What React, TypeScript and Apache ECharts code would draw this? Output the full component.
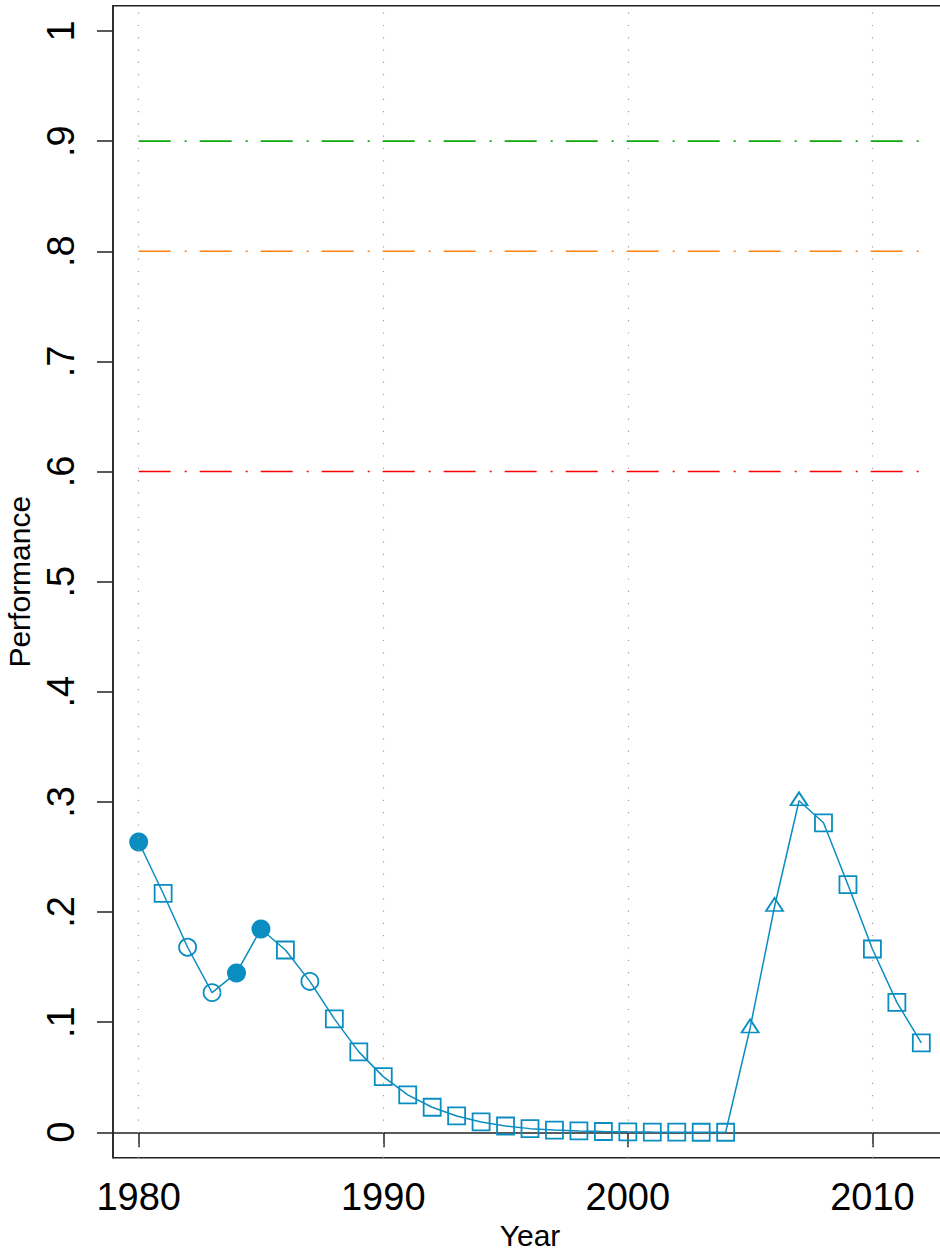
import React, { useEffect, useRef } from "react";
import * as echarts from "echarts";

const years = [1980, 1981, 1982, 1983, 1984, 1985, 1986, 1987, 1988, 1989, 1990, 1991, 1992, 1993, 1994, 1995, 1996, 1997, 1998, 1999, 2000, 2001, 2002, 2003, 2004, 2005, 2006, 2007, 2008, 2009, 2010, 2011, 2012];
const performance = [0.2636, 0.217, 0.168, 0.1268, 0.1447, 0.1846, 0.1655, 0.137, 0.103, 0.073, 0.0505, 0.0339, 0.0227, 0.0148, 0.0094, 0.0057, 0.0033, 0.002, 0.0012, 0.0007, 0.0004, 0.0002, 0.0001, 0.0, 0.0, 0.0947, 0.205, 0.301, 0.281, 0.2248, 0.1664, 0.118, 0.0811];
// F = filled circle, O = hollow circle, S = hollow square, T = hollow triangle
const markers = ["F", "S", "O", "O", "F", "F", "S", "O", "S", "S", "S", "S", "S", "S", "S", "S", "S", "S", "S", "S", "S", "S", "S", "S", "S", "T", "T", "T", "S", "S", "S", "S", "S"];

const xTicks = [1980, 1990, 2000, 2010];
const yTicks = [0, 0.1, 0.2, 0.3, 0.4, 0.5, 0.6, 0.7, 0.8, 0.9, 1];
const refLevels = [0.9, 0.8, 0.6];
const refColors = ["#10a810", "#ff8010", "#ff0000"];
const refStart = 1980;
const refEnd = 2012;

const BLUE = "#0a8dc0";
const FONT = "'Liberation Sans', Arial, sans-serif";

function markerItem(x: number, y: number, m: string) {
  if (m === "F") {
    return { value: [x, y], symbol: "circle", symbolSize: 19, itemStyle: { color: BLUE, borderWidth: 0 } };
  }
  if (m === "O") {
    return { value: [x, y], symbol: "circle", symbolSize: 17, itemStyle: { color: "rgba(0,0,0,0)", borderColor: BLUE, borderWidth: 1.8 } };
  }
  if (m === "T") {
    return { value: [x, y], symbol: "triangle", symbolSize: [17, 13], symbolOffset: [0, -2], itemStyle: { color: "rgba(0,0,0,0)", borderColor: BLUE, borderWidth: 1.8 } };
  }
  return { value: [x, y], symbol: "rect", symbolSize: 17, itemStyle: { color: "rgba(0,0,0,0)", borderColor: BLUE, borderWidth: 1.8 } };
}

export default function App() {
  const ref = useRef<HTMLDivElement>(null);
  useEffect(() => {
    if (!ref.current) return;
    const chart = echarts.init(ref.current, undefined, { renderer: "svg" });
    const seriesData = years.map((y, i) => markerItem(y, performance[i], markers[i]));
    const refSeries = refLevels.map((lv, i) => ({
      type: "line",
      z: 2,
      silent: true,
      symbol: "none",
      color: refColors[i],
      data: [[refStart, lv], [refEnd, lv]],
      lineStyle: { color: refColors[i], width: 1.6, type: [32, 14, 2, 13], opacity: 1 },
    }));
    chart.setOption({
      animation: false,
      backgroundColor: "#ffffff",
      grid: {
        left: 113,
        right: -7,
        top: 5.7,
        bottom: 96.3,
        show: true,
        borderColor: "#222",
        borderWidth: 1.5,
        containLabel: false,
        outerBoundsMode: "none",
      },
      xAxis: {
        type: "value",
        min: 1978.95,
        max: 2013.05,
        name: "Year",
        nameLocation: "middle",
        nameGap: 63,
        nameTextStyle: { fontSize: 30, fontFamily: FONT, color: "#000" },
        axisLine: { show: true, lineStyle: { color: "#222", width: 1.5 } },
        axisTick: { show: true, length: 15, customValues: xTicks, lineStyle: { color: "#222", width: 1.5 } },
        axisLabel: { customValues: xTicks, fontSize: 38, fontFamily: FONT, color: "#000", margin: 20, formatter: (v: number) => String(v) },
        splitLine: { show: false },
      },
      yAxis: {
        type: "value",
        min: -0.0231,
        max: 1.023,
        name: "Performance",
        nameLocation: "middle",
        nameGap: 73,
        nameRotate: 90,
        nameTextStyle: { fontSize: 30, fontFamily: FONT, color: "#000" },
        axisLine: { show: true, lineStyle: { color: "#222", width: 1.5 } },
        axisTick: { show: true, length: 16, customValues: yTicks, lineStyle: { color: "#222", width: 1.5 } },
        axisLabel: {
          customValues: yTicks,
          rotate: 90,
          fontSize: 38,
          fontFamily: FONT,
          color: "#000",
          margin: 33,
          formatter: (v: number) => (v === 0 ? "0" : Math.abs(v - 1) < 1e-9 ? "1" : "." + Math.round(v * 10)),
        },
        splitLine: { show: false },
      },
      series: [
        {
          type: "line",
          z: 1,
          silent: true,
          data: [],
          markLine: {
            silent: true,
            symbol: "none",
            label: { show: false },
            lineStyle: { color: "#a0a0a0", width: 1.2, type: [1.2, 11.1] },
            data: xTicks.map((x) => ({ xAxis: x })),
          },
        },
        ...refSeries,
        {
          type: "line",
          z: 3,
          data: seriesData,
          showAllSymbol: true,
          lineStyle: { color: BLUE, width: 1.5 },
          itemStyle: { color: BLUE },
        },
      ],
    });
    return () => chart.dispose();
  }, []);
  return <div ref={ref} style={{ position: "absolute", left: 0, top: 0, width: 940, height: 1254 }} />;
}
